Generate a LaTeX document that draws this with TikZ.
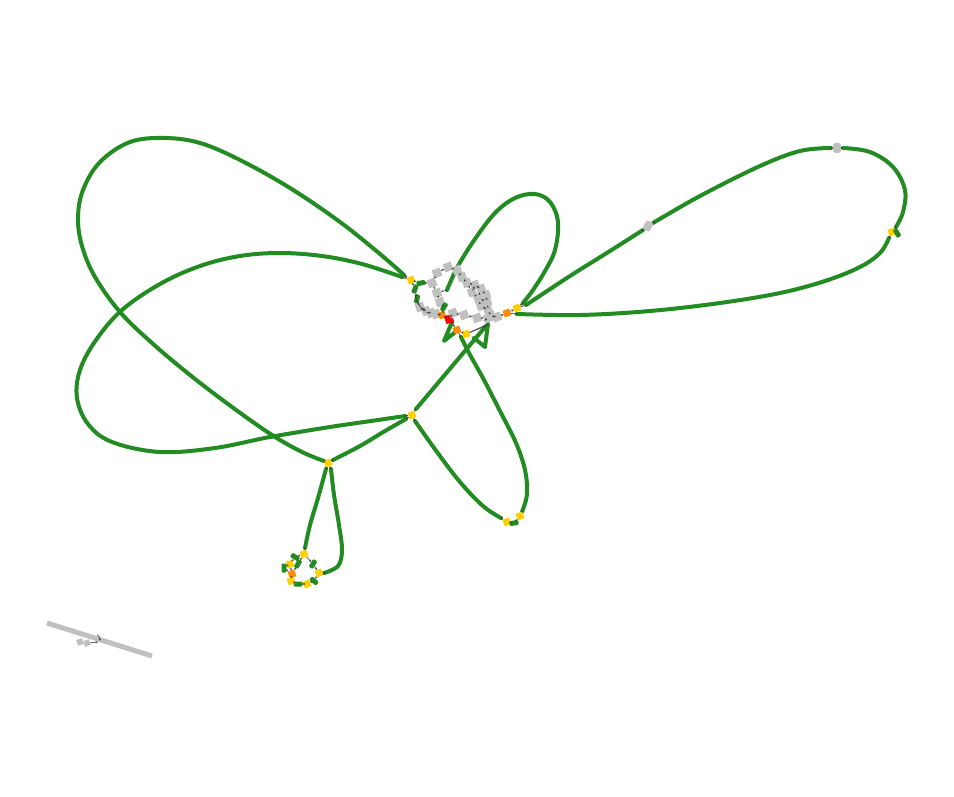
\documentclass[tikz,border=0pt]{standalone}
\usetikzlibrary{arrows.meta}
\definecolor{segcol}{RGB}{34,139,34}
\definecolor{gnode}{RGB}{192,192,192}
\definecolor{ynode}{RGB}{255,208,0}
\definecolor{onode}{RGB}{255,140,0}
\definecolor{rnode}{RGB}{255,0,0}
\definecolor{lnk}{RGB}{60,60,60}
\begin{document}
\begin{tikzpicture}[x=1pt,y=-1pt,
  segline/.style={draw=segcol,line width=4pt,line cap=round,line join=round},
  sq/.style={rectangle,minimum size=7pt,inner sep=0pt,rotate=20},
  ysq/.style={sq,fill=ynode},
  osq/.style={sq,fill=onode},
  rsq/.style={sq,fill=rnode,minimum size=8pt},
  gsq/.style={sq,fill=gnode,minimum size=8.5pt},
  gbit/.style={rectangle,minimum width=9pt,minimum height=5pt,inner sep=0pt,fill=segcol,rounded corners=1.2pt},
  grnd/.style={rectangle,minimum width=8pt,minimum height=10pt,inner sep=0pt,fill=gnode,rounded corners=2.5pt},
  link/.style={draw=lnk,line width=0.6pt,-{Stealth[length=2.2pt,width=2.2pt]}},
  greyline/.style={draw=gnode,line width=5pt}
]
\fill[white] (0,0) rectangle (954,797);
\useasboundingbox (0,0) rectangle (954,797);

% ---------- coordinates of segment ends ----------
\coordinate (A0) at (404,275); \coordinate (A1) at (324,461);
\coordinate (B0) at (402,277); \coordinate (B1) at (405,416);
\coordinate (C0) at (333,460); \coordinate (C1) at (406,419);
\coordinate (D0) at (416,409); \coordinate (D1) at (486,326);
\coordinate (E0) at (415,421); \coordinate (E1) at (501,518);
\coordinate (F0) at (522,512); \coordinate (F1) at (461,337);
\coordinate (G0) at (447,290); \coordinate (G1) at (523,303);
\coordinate (H0) at (526,305); \coordinate (H1) at (643,230);
\coordinate (H2) at (653,223); \coordinate (H3) at (831,148);
\coordinate (H4) at (843,148); \coordinate (H5) at (896,227);
\coordinate (H6) at (889,238); \coordinate (H7) at (517,314);
\coordinate (I0) at (326,469); \coordinate (I1) at (305,548);
\coordinate (J0) at (331,469); \coordinate (J1) at (324,573);

% ---------- big green segments ----------
\draw[segline] plot[smooth,tension=0.6] coordinates {(A0) (380,254) (340,222) (290,188) (240,160) (200,143) (165,138) (130,142) (100,162) (83,190) (78,218) (82,246) (95,277) (120,312) (152,343) (190,375) (232,407) (272,435) (302,452) (A1)};
\draw[segline] plot[smooth,tension=0.6] coordinates {(B0) (362,264) (322,256) (280,253) (240,256) (200,266) (160,284) (122,310) (96,340) (80,370) (77,398) (88,424) (112,442) (160,452) (215,448) (270,437) (330,427) (378,420) (B1)};
\draw[segline] plot[smooth,tension=0.6] coordinates {(C0) (360,446) (385,431) (C1)};
\draw[segline] (D0) -- (D1);
\draw[segline] plot[smooth,tension=0.6] coordinates {(E0) (437,452) (460,482) (483,506) (E1)};
\draw[segline] plot[smooth,tension=0.6] coordinates {(F0) (527,494) (525,470) (516,443) (501,413) (484,380) (469,353) (F1)};
\draw[segline] plot[smooth,tension=0.6] coordinates {(G0) (458,266) (475,239) (495,213) (515,198) (535,194) (550,202) (558,222) (555,250) (545,271) (533,290) (G1)};
\draw[segline] plot[smooth,tension=0.6] coordinates {(H0) (570,276) (610,251) (H1)};
\draw[segline] plot[smooth,tension=0.6] coordinates {(H2) (700,196) (760,166) (800,151) (H3)};
\draw[segline] plot[smooth,tension=0.6] coordinates {(H4) (870,152) (893,167) (905,190) (903,212) (H5)};
\draw[segline] plot[smooth,tension=0.6] coordinates {(H6) (880,253) (860,267) (825,281) (780,293) (720,303) (650,311) (580,315) (H7)};
\draw[segline] plot[smooth,tension=0.6] coordinates {(I0) (318,498) (310,525) (I1)};
\draw[segline] plot[smooth,tension=0.6] coordinates {(J0) (334,495) (339,525) (342,550) (338,566) (J1)};
% small hairpin segments
\coordinate (K0) at (452,322); \coordinate (K1) at (444,341); \coordinate (K2) at (458,330);
\draw[segline] (K0) -- (K1) -- (K2);
\coordinate (L0) at (488,324); \coordinate (L1) at (485,347); \coordinate (L2) at (474,338);
\draw[segline] (L0) -- (L1) -- (L2);

% ---------- grey isolated segment ----------
\coordinate (M0) at (47,623); \coordinate (M1) at (152,656);
\draw[greyline] (M0) -- (M1);
\node[gsq,minimum size=6pt] (m1) at (80,642) {};
\node[gsq,minimum size=6pt] (m2) at (87,643) {};
\node[inner sep=0pt,minimum size=2pt] (m3) at (96,634) {};
\node[inner sep=0pt,minimum size=2pt] (m4) at (99,642) {};
\draw[link] (m2) -- (m4);
\draw[link] (m3) to[bend left=40] (m4);

% ---------- junction nodes on the loops ----------
\node[ysq] (yA) at (411,280) {};
\node[ysq] (yB) at (412,415) {};
\node[ysq] (yC) at (328,463) {};
\node[ysq] (yD) at (517,308) {};
\node[osq] (oD) at (507,313) {};
\node[ysq] (yE) at (892,232) {};
\node[gbit,rotate=-60] (gE) at (897,233) {};
\node[grnd,rotate=-30] (gF) at (648,226) {};
\node[grnd] (gG) at (837,148) {};

\draw[link] (H1) -- (gF); \draw[link] (gF) -- (H2);
\draw[link] (H3) -- (gG); \draw[link] (gG) -- (H4);
\draw[link] (H5) -- (yE); \draw[link] (yE) -- (H6);
\draw[link] (A0) -- (yA); \draw[link] (B0) -- (yA);
\draw[link] (B1) -- (yB); \draw[link] (C1) -- (yB);
\draw[link] (yB) -- (D0); \draw[link] (yB) -- (E0);
\draw[link] (A1) -- (yC); \draw[link] (C0) -- (yC);
\draw[link] (yC) -- (I0); \draw[link] (yC) -- (J0);
\draw[link] (G1) -- (yD); \draw[link] (H0) -- (yD);
\draw[link] (oD) -- (H7);

% ---------- node at bottom right of loop ----------
\node[ysq] (yP) at (507,522) {};
\node[gbit,rotate=10] (gP) at (514,523) {};
\node[ysq] (yQ) at (520,516) {};
\draw[link] (E1) -- (yP); \draw[link] (yP) -- (gP);
\draw[link] (gP) -- (yQ); \draw[link] (yQ) -- (F0);

% ---------- bottom ring ----------
\node[ysq] (r1) at (304,554) {};
\node[gbit,rotate=60] (r2) at (313,564) {};
\node[ysq] (r3) at (319,573) {};
\node[gbit,rotate=-40] (r4) at (314,581) {};
\node[ysq] (r5) at (307,584) {};
\node[gbit,rotate=0] (r6) at (298,584) {};
\node[ysq] (r7) at (291,581) {};
\node[osq] (r8) at (292,574) {};
\node[ysq] (r9) at (290,564) {};
\node[gbit,rotate=90] (r10) at (284,568) {};
\node[gbit,rotate=-30] (r11) at (295,557) {};
\node[gbit,rotate=60] (r12) at (298,564) {};
\draw[link] (I1) -- (r1); \draw[link] (J1) -- (r3);
\draw[link] (r1) -- (r2); \draw[link] (r2) -- (r3);
\draw[link] (r3) -- (r4); \draw[link] (r4) -- (r5);
\draw[link] (r5) -- (r6); \draw[link] (r6) -- (r7);
\draw[link] (r7) -- (r8); \draw[link] (r8) -- (r9);
\draw[link] (r9) -- (r10); \draw[link] (r10) -- (r8);
\draw[link] (r9) -- (r11); \draw[link] (r11) -- (r1);
\draw[link] (r1) -- (r12); \draw[link] (r12) -- (r8);

% ---------- central cluster ----------
\node[gbit,rotate=10] (c1) at (421,283) {};
\node[gsq] (c2) at (432,283) {};
\node[gsq] (c3) at (437,273) {};
\node[gsq] (c4) at (448,267) {};
\node[gsq] (c5) at (457,270) {};
\node[gsq] (c6) at (462,277) {};
\node[gsq] (c7) at (467,283) {};
\node[gsq] (c8) at (475,285) {};
\node[gsq] (c9) at (481,289) {};
\node[gsq] (c10) at (486,295) {};
\node[gsq] (c11) at (472,292) {};
\node[gsq] (c12) at (478,298) {};
\node[gsq] (c13) at (487,302) {};
\node[gsq] (c14) at (481,306) {};
\node[gsq] (c15) at (488,310) {};
\node[gsq] (c16) at (491,316) {};
\node[gsq] (c17) at (497,317) {};
\node[gbit,rotate=70] (d1) at (415,289) {};
\node[gbit,rotate=80] (d2) at (417,299) {};
\node[gsq] (d3) at (420,307) {};
\node[gsq] (d4) at (426,311) {};
\node[gsq] (d5) at (431,313) {};
\node[gsq] (d6) at (436,314) {};
\node[gsq] (e1) at (437,293) {};
\node[gsq] (e2) at (440,302) {};
\node[gbit,rotate=60] (e3) at (444,307) {};
\node[osq] (o1) at (442,315) {};
\node[rsq] (rd) at (449,319) {};
\node[gsq] (f1) at (453,313) {};
\node[gsq] (f2) at (464,315) {};
\node[gsq] (f3) at (477,318) {};
\node[gsq] (f4) at (488,318) {};
\node[osq] (o2) at (457,330) {};
\node[ysq] (y2) at (466,334) {};

\draw[link] (yA) -- (c1); \draw[link] (c1) -- (c2);
\draw[link] (c2) -- (c3); \draw[link] (c3) -- (c4);
\draw[link] (c4) -- (c5); \draw[link] (c5) -- (c6);
\draw[link] (c6) -- (c7); \draw[link] (c7) -- (c8);
\draw[link] (c8) -- (c9); \draw[link] (c9) -- (c10);
\draw[link] (c10) -- (c13); \draw[link] (c13) -- (c15);
\draw[link] (c15) -- (c16); \draw[link] (c16) -- (c17);
\draw[link] (c17) -- (oD); \draw[link] (oD) -- (yD);
\draw[link] (c7) -- (c11); \draw[link] (c11) -- (c12);
\draw[link] (c12) -- (c14); \draw[link] (c14) -- (c15);
\draw[link] (c8) -- (c11); \draw[link] (c9) -- (c12);
\draw[link] (c12) -- (c13);
\draw[link] (yA) -- (d1); \draw[link] (d1) -- (d2);
\draw[link] (d2) -- (d3); \draw[link] (d3) -- (d4);
\draw[link] (d4) -- (d5); \draw[link] (d5) -- (d6);
\draw[link] (d6) -- (o1);
\draw[link] (c2) -- (e1); \draw[link] (e1) -- (e2);
\draw[link] (e2) -- (e3); \draw[link] (e3) -- (o1);
\draw[link] (d1) to[bend right=30] (d5);
\draw[link] (o1) -- (rd);
\draw[link] (rd) -- (f1); \draw[link] (f1) -- (f2);
\draw[link] (f2) -- (f3); \draw[link] (f3) -- (f4);
\draw[link] (f4) -- (c16);
\draw[link] (rd) -- (o2); \draw[link] (o2) -- (y2);
\draw[link] (G0) -- (e1);
\draw[link] (o2) -- (F1);
\draw[link] (y2) -- (D1);
\draw[link] (rd) -- (K0);
\draw[link] (y2) -- (L0);
\end{tikzpicture}
\end{document}
